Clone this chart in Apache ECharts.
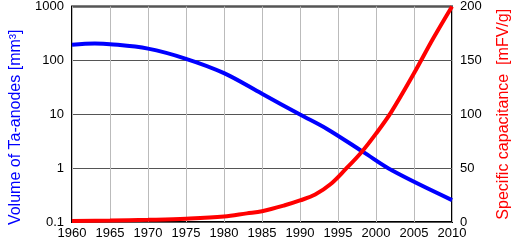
<!DOCTYPE html>
<html lang="en" style="height: 100%">
<head>
    <meta charset="utf-8">
    <script type="text/javascript" src="https://cdn.jsdelivr.net/npm/echarts@6/dist/echarts.min.js"></script>
</head>
<body style="height: 100%; margin: 0; background: #fff">
    <div id="chart" style="height: 243px; width: 520px"></div>
    <script type="text/javascript">
        // volume of Ta-anodes (log scale, mm³)
        var volYears = [1960, 1963, 1965, 1970, 1975, 1980, 1985, 1990, 1993.5, 1998.3, 2002.2, 2010];
        var volume = [195, 205, 200, 165, 107, 58, 24, 9.9, 5.4, 2.0, 0.89, 0.255];

        // specific capacitance (mFV/g)
        var capYears = [1960, 1965, 1970, 1975, 1980, 1983, 1985, 1988, 1990, 1992, 1994, 1996, 1998, 2000, 2002, 2005, 2007.5, 2010];
        var capacitance = [1, 1.3, 2, 3, 5, 8, 10, 15.5, 20, 25.5, 35, 49, 64, 82, 102, 138, 170, 200];

        function pairs(xs, ys) {
            return xs.map(function (x, i) { return [x, ys[i]]; });
        }

        var chart = echarts.init(document.getElementById('chart'));
        var font = 'Liberation Sans, Arial, sans-serif';
        chart.setOption({
            animation: false,
            grid: {
                left: 60, right: 57, top: 6, bottom: 21,
                show: true, borderColor: '#000', borderWidth: 2
            },
            xAxis: {
                type: 'value',
                min: 1960, max: 2010, interval: 5,
                axisLine: { show: false },
                axisTick: { show: false },
                axisLabel: {
                    color: '#000', fontSize: 13, fontFamily: font, margin: 5,
                    formatter: function (v) { return String(v); }
                },
                splitLine: { show: true, lineStyle: { color: '#bbb', width: 1 } }
            },
            yAxis: [{
                type: 'log',
                logBase: 10,
                min: 0.1, max: 1000,
                position: 'left',
                name: 'Volume of Ta-anodes [mm³]',
                nameLocation: 'middle',
                nameGap: 48,
                nameTextStyle: { color: '#0000ff', fontSize: 16, fontFamily: font, padding: [0, 26, 0, 0] },
                axisLine: { show: false },
                axisTick: { show: false },
                axisLabel: {
                    color: '#000', fontSize: 13, fontFamily: font, margin: 8,
                    formatter: function (v) { return String(v); }
                },
                splitLine: { show: true, lineStyle: { color: '#555', width: 1 } }
            }, {
                type: 'value',
                min: 0, max: 200, interval: 50,
                position: 'right',
                name: 'Specific capacitance  [mFV/g]',
                nameLocation: 'middle',
                nameGap: 44,
                nameRotate: 90,
                nameTextStyle: { color: '#ff0000', fontSize: 16, fontFamily: font },
                axisLine: { show: false },
                axisTick: { show: false },
                axisLabel: { color: '#000', fontSize: 13, fontFamily: font, margin: 8 },
                splitLine: { show: false }
            }],
            series: [{
                type: 'line',
                yAxisIndex: 0,
                data: pairs(volYears, volume),
                smooth: 0.35,
                showSymbol: false,
                lineStyle: { color: '#0000ff', width: 4 }
            }, {
                type: 'line',
                yAxisIndex: 1,
                data: pairs(capYears, capacitance),
                smooth: 0.35,
                showSymbol: false,
                lineStyle: { color: '#ff0000', width: 4 }
            }]
        });
    </script>
</body>
</html>
